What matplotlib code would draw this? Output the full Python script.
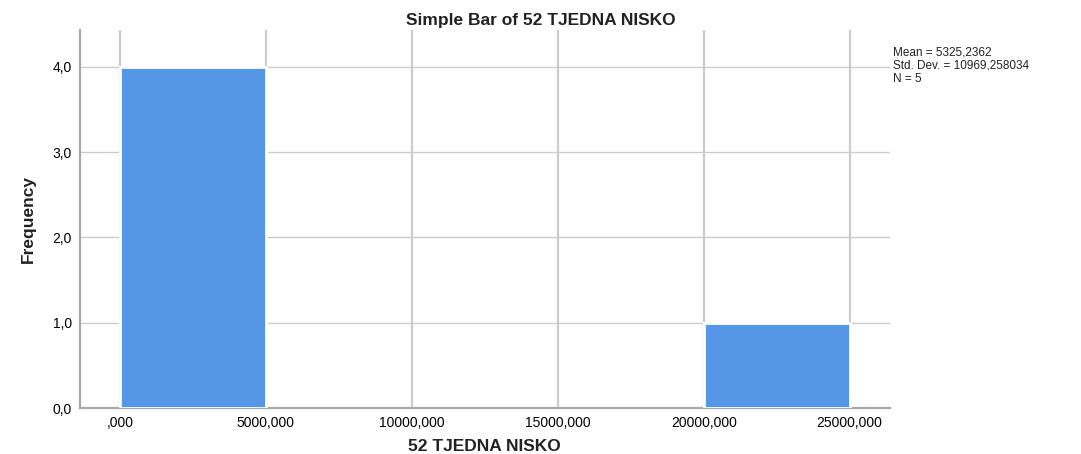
import matplotlib.pyplot as plt

# histogram bins (left edge) and counts
bin_lefts = [0, 20000]
bin_width = 5000
counts = [4, 1]
x_ticks = [0, 5000, 10000, 15000, 20000, 25000]
x_labels = [',000', '5000,000', '10000,000', '15000,000', '20000,000', '25000,000']
y_ticks = [0, 1, 2, 3, 4]
y_labels = ['0,0', '1,0', '2,0', '3,0', '4,0']
stats = ['Mean = 5325,2362', 'Std. Dev. = 10969,258034', 'N = 5']

plt.rcParams['font.family'] = ['Liberation Sans', 'DejaVu Sans']

fig = plt.figure(figsize=(10.81, 4.54), dpi=100)
ax = fig.add_axes([0.074, 0.101, 0.749, 0.833])

ax.bar(bin_lefts, counts, width=bin_width, align='edge', color='#5596e6',
       edgecolor='white', linewidth=2, zorder=3)

ax.set_xlim(-1370, 26370)
ax.set_ylim(0, 4.43)
ax.set_xticks(x_ticks)
ax.set_xticklabels(x_labels, fontsize=10)
ax.set_yticks(y_ticks)
ax.set_yticklabels(y_labels, fontsize=10)
ax.tick_params(length=0, pad=6)

ax.grid(axis='y', color='#cccccc', linewidth=1, zorder=0)
ax.grid(axis='x', color='#cccccc', linewidth=1.6, zorder=0)

for side in ['top', 'right']:
    ax.spines[side].set_visible(False)
for side in ['left', 'bottom']:
    ax.spines[side].set_color('#a8a8a8')
    ax.spines[side].set_linewidth(1.6)

ax.set_xlabel('52 TJEDNA NISKO', fontsize=12.5, fontweight='bold', color='#222222', labelpad=6)
ax.set_ylabel('Frequency', fontsize=12.5, fontweight='bold', color='#222222', labelpad=12)
fig.text(0.5, 0.955, 'Simple Bar of 52 TJEDNA NISKO', ha='center', va='center',
         fontsize=12.5, fontweight='bold', color='#222222')

fig.text(0.826, 0.855, '\n'.join(stats), ha='left', va='center', fontsize=8.5,
         linespacing=1.1, color='#222222')

fig.savefig('out.png', dpi=100)
